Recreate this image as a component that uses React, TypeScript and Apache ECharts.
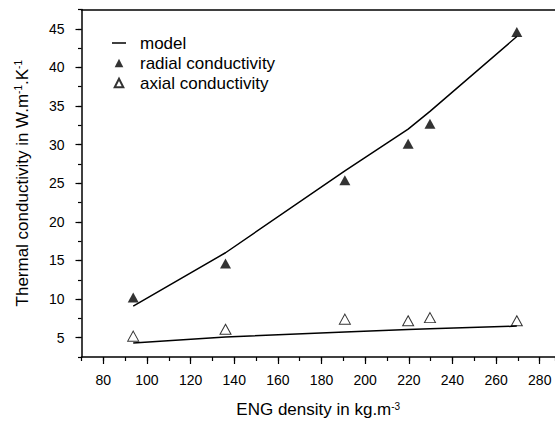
import React, { useEffect, useRef } from "react";
import * as echarts from "echarts";

// ENG density (kg/m3) of the samples
const densities = [93.7, 136, 190.7, 219.7, 229.7, 269.5];
// measured radial conductivity (W/m/K)
const radialMeasured = [10.2, 14.6, 25.4, 30.1, 32.7, 44.6];
// measured axial conductivity (W/m/K)
const axialMeasured = [5.2, 6.1, 7.4, 7.2, 7.6, 7.2];
// model curves evaluated at the same densities
const radialModel = [9.1, 16.0, 26.6, 32.0, 34.3, 44.0];
const axialModel = [4.3, 5.1, 5.75, 6.05, 6.15, 6.5];

const xMajorTicks = [80, 100, 120, 140, 160, 180, 200, 220, 240, 260, 280];
const yMajorTicks = [5, 10, 15, 20, 25, 30, 35, 40, 45];

const FONT = "Liberation Sans";

const zip = (xs: number[], ys: number[]) => xs.map((x, i) => [x, ys[i]]);

// legend icons: the zero-length sub-paths widen the bounding box so the
// triangle keeps its proportions inside the 14x9 legend icon box
const LEGEND_LINE = "path://M0,0 L14,0 L14,1.5 L0,1.5 Z";
const LEGEND_TRI = "path://M7,0.3 L11.3,8.7 L2.7,8.7 Z M0,0 L0,0 M14,9 L14,9";

export default function App() {
  const ref = useRef<HTMLDivElement>(null);
  useEffect(() => {
    if (!ref.current) return;
    const chart = echarts.init(ref.current, undefined, { renderer: "svg" });
    const axisLine = { show: true, lineStyle: { color: "#000", width: 1.5 } };
    const xMin = 70;
    const xMax = 287;
    const yMin = 2.5;
    const yMax = 47.5;
    const titleStyle = {
      fontFamily: FONT,
      fontSize: 17,
      color: "#000",
      rich: { sup: { fontSize: 10, verticalAlign: "top", fontFamily: FONT, color: "#000" } },
    };
    chart.setOption({
      animation: false,
      textStyle: { fontFamily: FONT, color: "#000" },
      grid: { left: 81.5, right: 0, top: 9.5, bottom: 62.5, containLabel: false },
      legend: {
        orient: "vertical",
        left: 111,
        top: 34.5,
        padding: 0,
        itemWidth: 14,
        itemHeight: 9,
        itemGap: 3,
        selectedMode: false,
        textStyle: { fontFamily: FONT, fontSize: 17, color: "#000", padding: [0, 0, 0, 9] },
        data: [
          { name: "model", icon: LEGEND_LINE },
          { name: "radial conductivity", icon: LEGEND_TRI },
          { name: "axial conductivity", icon: LEGEND_TRI },
        ],
      },
      xAxis: [
        {
          type: "value",
          position: "bottom",
          min: xMin,
          max: xMax,
          interval: 10,
          axisLine,
          axisTick: { show: true, inside: false, length: 4, lineStyle: { color: "#000", width: 1.2 } },
          axisLabel: { show: false },
          splitLine: { show: false },
          name: "ENG density in kg.m{sup|-3}",
          nameLocation: "middle",
          nameGap: 44,
          nameTextStyle: titleStyle,
        },
        {
          type: "value",
          position: "bottom",
          min: xMin,
          max: xMax,
          axisLine: { show: false },
          axisTick: {
            show: true,
            inside: false,
            length: 7,
            customValues: xMajorTicks,
            lineStyle: { color: "#000", width: 1.2 },
          },
          axisLabel: {
            show: true,
            customValues: xMajorTicks,
            margin: 16,
            fontFamily: FONT,
            fontSize: 14,
            color: "#000",
          },
          splitLine: { show: false },
        },
        {
          type: "value",
          position: "top",
          min: xMin,
          max: xMax,
          axisLine,
          axisTick: { show: false },
          axisLabel: { show: false },
          splitLine: { show: false },
        },
      ],
      yAxis: [
        {
          type: "value",
          position: "left",
          min: yMin,
          max: yMax,
          interval: 2.5,
          axisLine,
          axisTick: { show: true, inside: false, length: 3.5, lineStyle: { color: "#000", width: 1.2 } },
          axisLabel: { show: false },
          splitLine: { show: false },
          name: "Thermal conductivity in W.m{sup|-1}.K{sup|-1}",
          nameLocation: "middle",
          nameRotate: 90,
          nameGap: 51,
          nameTextStyle: titleStyle,
        },
        {
          type: "value",
          position: "left",
          min: yMin,
          max: yMax,
          axisLine: { show: false },
          axisTick: {
            show: true,
            inside: false,
            length: 6,
            customValues: yMajorTicks,
            lineStyle: { color: "#000", width: 1.2 },
          },
          axisLabel: {
            show: true,
            customValues: yMajorTicks,
            margin: 17,
            fontFamily: FONT,
            fontSize: 14,
            color: "#000",
          },
          splitLine: { show: false },
        },
      ],
      series: [
        {
          name: "model",
          type: "line",
          xAxisIndex: 0,
          yAxisIndex: 0,
          data: zip(densities, radialModel),
          symbol: "none",
          lineStyle: { color: "#000", width: 1.5 },
          itemStyle: { color: "#000" },
        },
        {
          name: "model",
          type: "line",
          xAxisIndex: 0,
          yAxisIndex: 0,
          data: zip(densities, axialModel),
          symbol: "none",
          lineStyle: { color: "#000", width: 1.5 },
          itemStyle: { color: "#000" },
        },
        {
          name: "radial conductivity",
          type: "scatter",
          xAxisIndex: 0,
          yAxisIndex: 0,
          data: zip(densities, radialMeasured),
          symbol: "triangle",
          symbolSize: [11, 10],
          itemStyle: { color: "#000" },
        },
        {
          name: "axial conductivity",
          type: "scatter",
          xAxisIndex: 0,
          yAxisIndex: 0,
          data: zip(densities, axialMeasured),
          symbol: "triangle",
          symbolSize: [11, 10],
          itemStyle: { color: "#fff", borderColor: "#000", borderWidth: 1 },
        },
      ],
    });
    return () => chart.dispose();
  }, []);
  return <div ref={ref} style={{ width: 555, height: 423, position: "absolute", left: 0, top: 0 }} />;
}
